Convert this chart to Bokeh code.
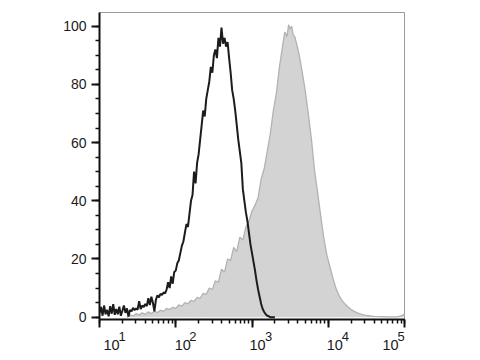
import numpy as np
from bokeh.plotting import figure
from bokeh.models import (Range1d, CustomJSTickFormatter, LogTicker, FixedTicker, LogAxis)
from bokeh.embed import file_html
from bokeh.resources import INLINE

# ---- data (x as log10 of fluorescence intensity, y as % of max) ----
black_logx = [1.00, 1.02, 1.04, 1.06, 1.08, 1.10, 1.12, 1.14, 1.16, 1.18, 1.20, 1.22, 1.24, 1.26,
              1.28, 1.30, 1.32, 1.34, 1.36, 1.38, 1.40, 1.42, 1.44, 1.46, 1.48, 1.50, 1.52, 1.54,
              1.56, 1.58, 1.60, 1.62, 1.64, 1.66, 1.68, 1.70, 1.72, 1.74, 1.76, 1.78, 1.80, 1.82,
              1.84, 1.86, 1.88, 1.90, 1.92, 1.94, 1.96, 1.98, 2.00, 2.02, 2.04, 2.06, 2.08, 2.10,
              2.12, 2.14, 2.16, 2.18, 2.20, 2.22, 2.24, 2.26, 2.28, 2.30, 2.32, 2.34, 2.36, 2.38,
              2.40, 2.42, 2.44, 2.46, 2.48, 2.50, 2.52, 2.54, 2.56, 2.58, 2.60, 2.62, 2.64, 2.66,
              2.68, 2.70, 2.72, 2.74, 2.76, 2.78, 2.80, 2.82, 2.84, 2.86, 2.88, 2.90, 2.92, 2.94,
              2.96, 2.98, 3.00, 3.02, 3.04, 3.06, 3.08, 3.10, 3.12, 3.14, 3.16, 3.18, 3.20, 3.22,
              3.24, 3.30]
black_counts = [1.5, 3.5, 0.5, 4.0, 1.0, 2.5, 0.3, 3.8, 1.2, 4.5, 0.8, 2.8, 1.0, 3.6,
                0.5, 2.2, 4.0, 1.5, 3.0, 0.2, 2.5, 2.0, 3.2, 2.4, 3.0, 2.6, 5.5, 2.8,
                4.0, 3.5, 4.5, 3.8, 6.5, 4.2, 7.0, 5.0, 2.0, 6.0, 7.5, 6.8, 8.0, 7.6,
                8.5, 8.2, 9.5, 12.0, 10.0, 14.0, 11.5, 15.5, 16.0, 18.5, 19.5, 22.0, 24.5, 26.0,
                29.0, 32.0, 31.0, 35.5, 40.0, 42.0, 50.0, 46.0, 53.0, 56.0, 61.0, 66.0, 71.0, 69.0,
                75.0, 78.0, 81.0, 86.0, 84.0, 90.0, 92.0, 89.0, 96.0, 93.0, 99.5, 94.0, 96.0, 93.0,
                94.5, 89.0, 84.0, 78.0, 75.0, 71.0, 66.0, 61.0, 57.0, 53.0, 44.0, 40.0, 36.0, 33.0,
                29.0, 25.0, 22.0, 19.0, 16.0, 12.5, 9.5, 7.0, 4.5, 2.8, 1.8, 1.0, 0.5, 0.3,
                0.0, 0.0]

gray_logx = [1.36, 1.40, 1.44, 1.48, 1.52, 1.56, 1.60, 1.64, 1.68, 1.72, 1.76, 1.80, 1.84, 1.88,
             1.92, 1.96, 2.00, 2.04, 2.08, 2.12, 2.16, 2.20, 2.24, 2.28, 2.32, 2.36, 2.40, 2.44,
             2.48, 2.52, 2.56, 2.60, 2.64, 2.68, 2.72, 2.76, 2.80, 2.84, 2.88, 2.92, 2.96, 3.00,
             3.04, 3.08, 3.12, 3.16, 3.20, 3.24, 3.28, 3.32, 3.36, 3.40, 3.43, 3.46, 3.48, 3.50,
             3.52, 3.54, 3.56, 3.58, 3.62, 3.66, 3.70, 3.74, 3.78, 3.82, 3.86, 3.90, 3.94, 3.98,
             4.02, 4.06, 4.10, 4.14, 4.18, 4.22, 4.26, 4.30, 4.34, 4.38, 4.42, 4.46, 4.50, 4.55,
             4.60, 4.70, 4.80, 4.90, 4.96, 5.00]
gray_counts = [0.0, 0.8, 0.4, 1.2, 0.7, 1.5, 1.0, 1.8, 1.2, 2.0, 1.6, 2.4, 2.0, 3.0,
               2.6, 3.4, 3.0, 4.2, 3.8, 5.0, 4.6, 5.8, 5.4, 6.8, 6.5, 8.2, 7.8, 10.0,
               9.5, 12.5, 12.0, 16.5, 15.5, 20.0, 19.5, 24.0, 22.5, 27.5, 26.5, 31.0, 33.0, 36.5,
               38.5, 41.0, 47.5, 51.0, 57.0, 63.0, 71.0, 77.0, 86.0, 93.0, 98.0, 96.5, 100.5, 99.0,
               100.0, 97.0, 96.5, 94.5, 90.0, 84.0, 77.5, 69.5, 61.0, 50.5, 43.0, 35.0, 27.5, 21.5,
               17.5, 13.5, 10.0, 7.5, 5.8, 4.5, 3.5, 2.6, 2.0, 1.5, 1.1, 0.8, 0.6, 0.4,
               0.3, 0.2, 0.1, 0.1, 0.4, 1.2]

y_ticks = [0, 20, 40, 60, 80, 100]
x_tick_exponents = [1, 2, 3, 4, 5]

bx = np.power(10.0, black_logx)
gx = np.power(10.0, gray_logx)

XR = Range1d(10, 1e5)
p = figure(width=480, height=360, x_axis_type="log", output_backend="svg",
           toolbar_location=None,
           x_range=XR, y_range=Range1d(-0.8, 104.7),
           min_border_left=99, min_border_right=76, min_border_top=12, min_border_bottom=41)

p.background_fill_color = "white"
p.border_fill_color = "white"
p.outline_line_color = "#9a9a9a"
p.outline_line_width = 1
p.xgrid.visible = False
p.ygrid.visible = False

# gray filled histogram
p.varea(x=gx, y1=np.zeros(len(gx)), y2=gray_counts, fill_color="#d3d3d3")
p.line(gx, gray_counts, line_color="#b2b2b2", line_width=1.3)
# black open histogram
p.line(bx, black_counts, line_color="#1c1c1c", line_width=2.0)

# y axis
ya = p.yaxis[0]
ya.ticker = FixedTicker(ticks=y_ticks, minor_ticks=list(range(0, 105, 5)))
ya.axis_line_color = "#111111"
ya.axis_line_width = 2
ya.major_tick_line_color = "#111111"
ya.major_tick_line_width = 2
ya.major_tick_in = 0
ya.major_tick_out = 8
ya.minor_tick_line_color = "#111111"
ya.minor_tick_line_width = 1.5
ya.minor_tick_in = 0
ya.minor_tick_out = 4
ya.major_label_text_font = "Liberation Sans"
ya.major_label_text_font_size = "14px"
ya.major_label_text_color = "#1a1a1a"
ya.major_label_standoff = 5

# x axis: ticks only
xa = p.xaxis[0]
xa.ticker = LogTicker(num_minor_ticks=10)
xa.formatter = CustomJSTickFormatter(code="return ''")
xa.major_label_text_font_size = "1px"
xa.major_label_standoff = 0
xa.axis_line_color = "#111111"
xa.axis_line_width = 2
xa.major_tick_line_color = "#111111"
xa.major_tick_line_width = 2
xa.major_tick_in = 0
xa.major_tick_out = 8
xa.minor_tick_line_color = "#111111"
xa.minor_tick_line_width = 1.5
xa.minor_tick_in = 0
xa.minor_tick_out = 4

# x tick labels: "10" with an exponent set as superscript (label layout offsets in px)
px_per_decade = 305.0 / 4.0
base_shift = {1: 12, 2: 7, 3: 5.5, 4: 6.5, 5: -14}
sup_shift = {1: 22.5, 2: 17, 3: 16.5, 4: 17, 5: -3.5}

sup_ticks = [10.0 ** (e + sup_shift[e] / px_per_decade) for e in x_tick_exponents]
base_ticks = [10.0 ** (e + base_shift[e] / px_per_decade) for e in x_tick_exponents]


def label_axis(ticks, texts, size, standoff):
    ax = LogAxis(ticker=FixedTicker(ticks=ticks, minor_ticks=[]))
    ax.major_label_overrides = {t: s for t, s in zip(ticks, texts)}
    ax.axis_line_color = None
    ax.major_tick_line_color = None
    ax.minor_tick_line_color = None
    ax.major_tick_out = 0
    ax.major_tick_in = 0
    ax.minor_tick_out = 0
    ax.major_label_standoff = standoff
    ax.major_label_text_font = "Liberation Sans"
    ax.major_label_text_font_size = size
    ax.major_label_text_color = "#1a1a1a"
    return ax


sup_axis = label_axis(sup_ticks, [str(e) for e in x_tick_exponents], "13px", 4)
base_axis = label_axis(base_ticks, ["10"] * len(x_tick_exponents), "14.5px", -4)
p.add_layout(sup_axis, "below")
p.add_layout(base_axis, "below")

open("out.html", "w").write(file_html(p, INLINE))
